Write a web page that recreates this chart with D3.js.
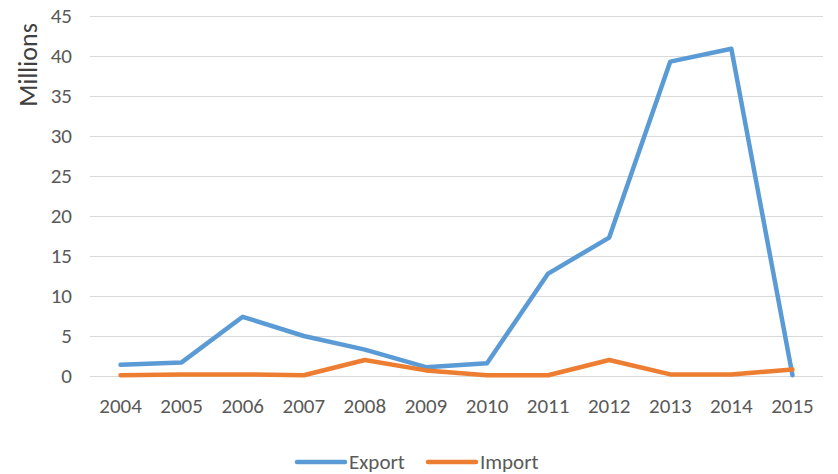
<!DOCTYPE html>
<html>
<head>
<meta charset="utf-8">
<script src="https://cdn.jsdelivr.net/npm/d3@7"></script>
<style>
  body { margin: 0; background: #fff; }
  text { font-family: Carlito, Calibri, "Open Sans", sans-serif; }
</style>
</head>
<body>
<div id="chart"></div>
<script>
const years = ["2004", "2005", "2006", "2007", "2008", "2009", "2010", "2011", "2012", "2013", "2014", "2015"];
const exportVals = [1.4, 1.7, 7.4, 5.0, 3.3, 1.1, 1.6, 12.8, 17.3, 39.3, 40.9, 0.1];
const importVals = [0.1, 0.2, 0.2, 0.1, 2.0, 0.7, 0.1, 0.1, 2.0, 0.2, 0.2, 0.8];
const yTicks = [0, 5, 10, 15, 20, 25, 30, 35, 40, 45];
const seriesNames = ["Export", "Import"];
const colors = ["#5B9BD5", "#ED7D31"];

const width = 838, height = 474;
const margin = {left: 90, right: 15, top: 16, bottom: 98};

const svg = d3.select("#chart").append("svg")
    .attr("width", width)
    .attr("height", height);

const x = d3.scalePoint()
    .domain(years)
    .range([margin.left, width - margin.right])
    .padding(0.5);

const y = d3.scaleLinear()
    .domain([0, 45])
    .range([height - margin.bottom, margin.top]);

// gridlines
svg.append("g")
    .selectAll("line")
    .data(yTicks)
    .enter().append("line")
    .attr("x1", margin.left)
    .attr("x2", width - margin.right)
    .attr("y1", d => Math.round(y(d)) + 0.5)
    .attr("y2", d => Math.round(y(d)) + 0.5)
    .attr("stroke", "#D9D9D9")
    .attr("stroke-width", 1);

// y tick labels
svg.append("g")
    .selectAll("text")
    .data(yTicks)
    .enter().append("text")
    .attr("x", 72)
    .attr("y", d => y(d))
    .attr("dy", "0.35em")
    .attr("text-anchor", "end")
    .attr("fill", "#595959")
    .style("font-size", "21px")
    .text(d => d);

// x tick labels
svg.append("g")
    .selectAll("text")
    .data(years)
    .enter().append("text")
    .attr("x", d => x(d))
    .attr("y", 406)
    .attr("dy", "0.35em")
    .attr("text-anchor", "middle")
    .attr("fill", "#595959")
    .style("font-size", "21px")
    .text(d => d);

// axis title
svg.append("text")
    .attr("transform", "translate(28,65) rotate(-90)")
    .attr("dy", "0.35em")
    .attr("text-anchor", "middle")
    .attr("fill", "#404040")
    .style("font-size", "26px")
    .text("Millions");

const line = d3.line()
    .x((d, i) => x(years[i]))
    .y(d => y(d));

[exportVals, importVals].forEach((vals, k) => {
    svg.append("path")
        .datum(vals)
        .attr("fill", "none")
        .attr("stroke", colors[k])
        .attr("stroke-width", 4.5)
        .attr("stroke-linejoin", "round")
        .attr("stroke-linecap", "round")
        .attr("d", line);
});

// legend
const legendX = [297, 428];
const legend = svg.append("g")
    .selectAll("g")
    .data(seriesNames)
    .enter().append("g")
    .attr("transform", (d, i) => `translate(${legendX[i]},462)`);

legend.append("line")
    .attr("x1", 0)
    .attr("x2", 48)
    .attr("stroke", (d, i) => colors[i])
    .attr("stroke-width", 4.5)
    .attr("stroke-linecap", "round");

legend.append("text")
    .attr("x", 52)
    .attr("dy", "0.35em")
    .attr("fill", "#595959")
    .style("font-size", "21px")
    .text(d => d);
</script>
</body>
</html>
